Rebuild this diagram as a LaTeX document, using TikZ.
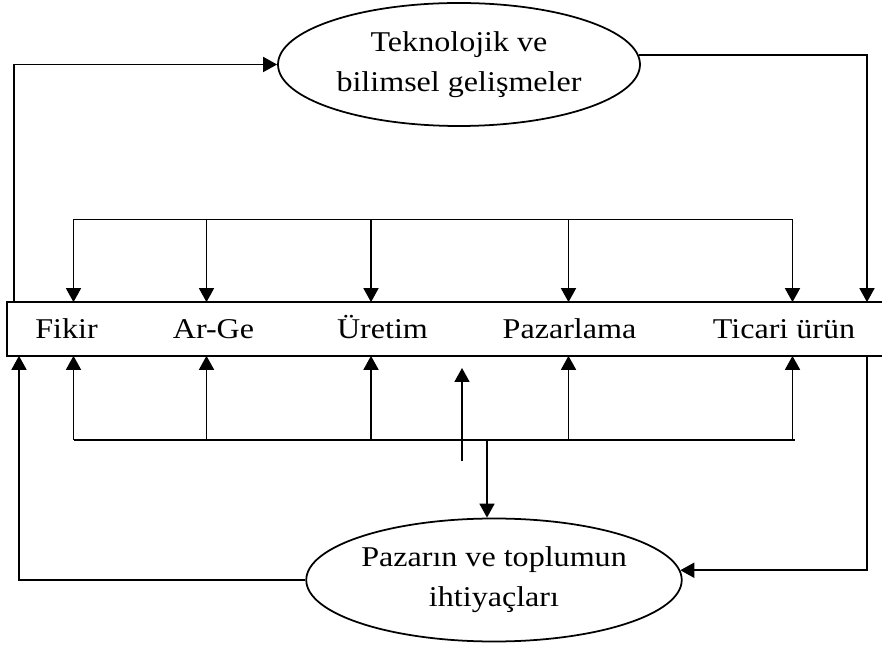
\documentclass[tikz,border=0pt]{standalone}
\usepackage{fontspec}
\setmainfont{Liberation Serif}[FakeStretch=1.12]
\usetikzlibrary{shapes.geometric, arrows.meta, positioning, calc}
\tikzset{
  oval/.style={draw, ellipse, inner sep=0pt, minimum width=7.24cm, minimum height=2.46cm, align=center, font=\fontsize{16.3}{22.8}\selectfont},
  chainbar/.style={minimum width=17.5cm, minimum height=1.04cm, inner sep=0pt},
  stage/.style={font=\fontsize{16.3}{20}\selectfont, inner sep=0pt, anchor=base},
  arr/.style={-{Triangle[length=2.8mm, width=3mm]}},
}

\begin{document}
\begin{tikzpicture}[line width=1pt]
  \useasboundingbox (0,0) rectangle (17.64,12.96);
  \node[oval] (tech) at (9.18,11.67) {Teknolojik ve\\bilimsel gelişmeler};
  \node[oval] (need) at (9.88,1.36) {Pazarın ve toplumun\\ihtiyaçları};
  \node[chainbar, anchor=west] (chain) at (0.14,6.38) {};
  \draw (chain.north east) -- (chain.north west) -- (chain.south west) -- (chain.south east);
  % stages in the bar
  \node[stage] (fikir) at (1.33,6.18) {Fikir};
  \node[stage] (arge) at (4.27,6.18) {Ar-Ge};
  \node[stage] (uretim) at (7.65,6.18) {Üretim};
  \node[stage] (pazar) at (11.39,6.18) {Pazarlama};
  \node[stage] (ticari) at (15.68,6.18) {Ticari ürün};
  % feedback buses above and below
  \foreach \n/\x in {fikir/1.47, arge/4.13, uretim/7.42, pazar/11.37, ticari/15.85} {
    \coordinate (\n-in) at (\x,8.57);
    \coordinate (\n-out) at (\x,4.16);
    \draw[arr] (\n-in) -- (\n-in |- chain.north);
    \draw[arr] (\n-out) -- (\n-out |- chain.south);
  }
  \draw (fikir-in) -- (ticari-in);
  \draw (fikir-out) -- ([xshift=0.05cm]ticari-out);
  % outer loops
  \coordinate (lt) at (0.28,0);
  \coordinate (lb) at (0.38,0);
  \coordinate (rt) at (17.34,0);
  \draw[arr] (chain.north west -| lt) |- (tech);
  \draw[arr] (tech.3) -| (chain.north east -| rt);
  \draw[arr] (need.west) -| (chain.south west -| lb);
  \draw[arr] (chain.south east -| rt) |- (need.3);
  % middle link
  \coordinate (rise-a) at (9.24,3.74);
  \coordinate (rise-b) at (9.24,5.6);
  \draw[arr] (rise-a) -- (rise-b);
  \coordinate (drop) at (9.74,4.16);
  \draw[arr] (drop) -- (drop |- need.north);
\end{tikzpicture}
\end{document}
